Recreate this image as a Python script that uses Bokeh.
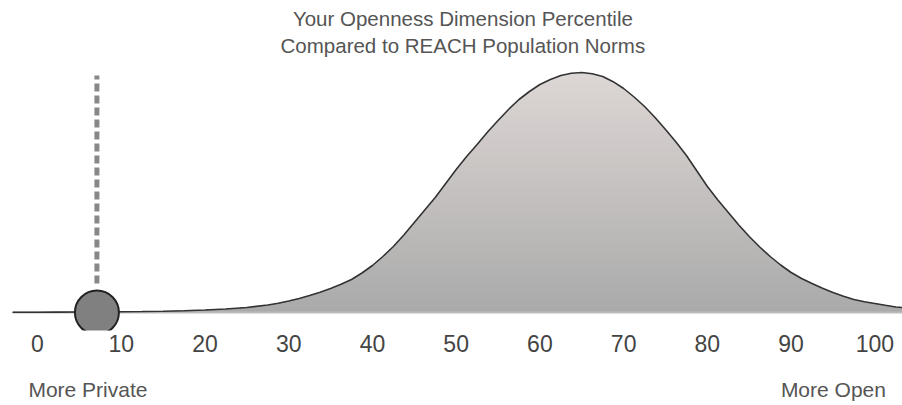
from bokeh.plotting import figure
from bokeh.models import Range1d, Label, FixedTicker, LinearAxis
from bokeh.embed import file_html
from bokeh.resources import INLINE

# --- data ---
percentile = [-3, 0, 2.5, 5, 7.5, 10, 12.5, 15, 17.5, 20, 22.5, 25,
              27.5, 28.75, 30, 31.25, 32.5, 33.75, 35, 36.25, 37.5, 38.75, 40, 41.25,
              42.5, 43.75, 45, 46.25, 47.5, 48.75, 50, 51.25, 52.5, 53.75, 55, 56.25,
              57.5, 58.75, 60, 61.25, 62.5, 63.75, 65, 66.25, 67.5, 68.75, 70, 71.25,
              72.5, 73.75, 75, 76.25, 77.5, 78.75, 80, 81.25, 82.5, 83.75, 85, 86.25,
              87.5, 88.75, 90, 91.25, 92.5, 93.75, 95, 96.25, 97.5, 98.75, 100, 101.25,
              102.5, 103.3]
density = [0.2, 0.3, 0.4, 0.5, 0.6, 0.8, 1.0, 1.3, 1.8, 2.5, 3.5, 5,
           7.5, 9.3, 11.5, 14, 17, 20.3, 24, 28.3, 33, 39.5, 47, 56,
           66, 77.5, 90, 102.5, 115, 129, 143, 156, 168, 180.5, 192, 203,
           213, 221, 228, 233, 237, 239.3, 240, 238.8, 236, 230.8, 224, 215.5,
           206, 195, 183, 170.5, 157, 141.5, 126, 112.5, 100, 87.5, 76, 65.5,
           56, 47.5, 40, 34, 29, 24.3, 20, 16.3, 13, 10.8, 9, 7.2,
           5.5, 5]
score = 7.1
tick_values = [0, 10, 20, 30, 40, 50, 60, 70, 80, 90, 100]
title_lines = ["Your Openness Dimension Percentile", "Compared to REACH Population Norms"]
end_label_pos = [6.03, 95.05]
end_labels = ["More Private", "More Open"]

FONT = "Liberation Sans"
TEXT = "#555555"

p = figure(width=902, height=405, output_backend="svg", toolbar_location=None,
           x_range=Range1d(-2.98, 103.3), y_range=Range1d(-18, 312),
           x_axis_location=None,
           min_border_left=12, min_border_right=0, min_border_top=0, min_border_bottom=75)
p.outline_line_color = None
p.grid.visible = False
p.yaxis.visible = False
p.background_fill_color = "white"
p.border_fill_color = "white"

# gradient fill built from stacked bands (top colours first, lower bands over them)
top_c = (221, 215, 213)
bot_c = (170, 170, 170)
peak = max(density)
n_bands = 48
for k in range(n_bands, 0, -1):
    hi = peak * k / n_bands
    t = (k - 0.5) / n_bands
    col = tuple(int(round(bot_c[i] + (top_c[i] - bot_c[i]) * t)) for i in range(3))
    y2 = [min(d, hi) for d in density]
    p.varea(x=percentile, y1=[0] * len(percentile), y2=y2,
            fill_color="#%02x%02x%02x" % col, fill_alpha=1.0)

# baseline
p.line(x=[-2.98, 103.3], y=[0, 0], line_color="#bbbbbb", line_width=2)
# curve outline
p.line(x=percentile, y=density, line_color="#333333", line_width=1.6)

# score marker
p.segment(x0=[score], y0=[29], x1=[score], y1=[237], line_color="#888888",
          line_width=5, line_dash="8 4")
p.scatter(x=[score], y=[0], size=44, marker="circle", fill_color="#808080",
          line_color="#222222", line_width=2)

# percentile axis
ax = LinearAxis(ticker=FixedTicker(ticks=tick_values))
ax.axis_line_color = None
ax.major_tick_line_color = None
ax.minor_tick_line_color = None
ax.major_tick_out = 0
ax.major_tick_in = 0
ax.major_label_standoff = 4
ax.major_label_text_font = FONT
ax.major_label_text_font_size = "23px"
ax.major_label_text_color = "#444444"
p.add_layout(ax, "below")

# end labels axis
ax2 = LinearAxis(ticker=FixedTicker(ticks=end_label_pos),
                 major_label_overrides={end_label_pos[0]: end_labels[0],
                                        end_label_pos[1]: end_labels[1]})
ax2.axis_line_color = None
ax2.major_tick_line_color = None
ax2.minor_tick_line_color = None
ax2.major_tick_out = 0
ax2.major_tick_in = 0
ax2.major_label_standoff = 23
ax2.major_label_text_font = FONT
ax2.major_label_text_font_size = "21px"
ax2.major_label_text_color = TEXT
p.add_layout(ax2, "below")

# title lines
p.add_layout(Label(x=50.8, y=294, text=title_lines[0], text_align="center",
                   text_baseline="alphabetic", text_font=FONT, text_font_size="20.5px",
                   text_color=TEXT))
p.add_layout(Label(x=50.8, y=267, text=title_lines[1], text_align="center",
                   text_baseline="alphabetic", text_font=FONT, text_font_size="20.5px",
                   text_color=TEXT))

open("out.html", "w").write(file_html(p, INLINE))
